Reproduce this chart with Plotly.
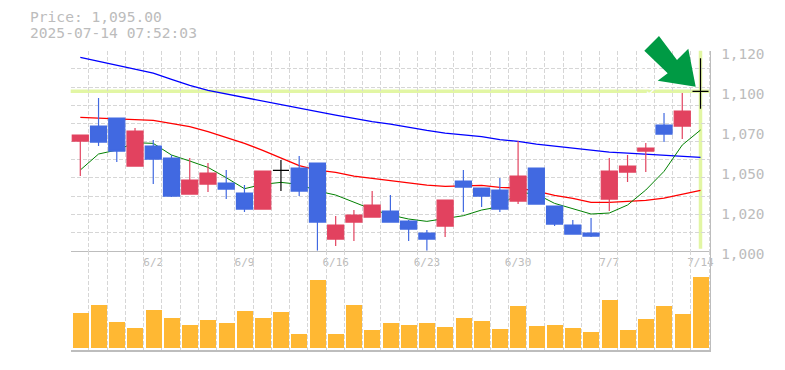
import plotly.graph_objects as go

W, H = 785, 370
FONT = "DejaVu Sans Mono"
GRID = "#d6d6d6"
AXIS = "#bdbdbd"
TEXT = "#bcbcbc"

dates = ["6/2", "6/9", "6/16", "6/23", "6/30", "7/7", "7/14"]
date_idx = [4, 9, 14, 19, 24, 29, 34]
price_labels = ["1,000", "1,020", "1,050", "1,070", "1,100", "1,120"]

opens = [1065.2, 1074.2, 1079.0, 1050.2, 1062.2, 1055.0, 1033.4, 1039.4, 1040.0, 1034.0, 1024.4, 1047.6,
         1049.0, 1052.0, 1006.4, 1016.6, 1019.6, 1023.2, 1017.2, 1010.0, 1014.2, 1041.2, 1037.0, 1035.8,
         1029.2, 1049.0, 1026.2, 1014.8, 1010.0, 1030.4, 1046.6, 1059.2, 1074.8, 1074.2, 1095.0]
closes = [1068.8, 1064.6, 1059.2, 1071.2, 1054.4, 1032.2, 1041.8, 1046.0, 1036.4, 1024.4, 1047.2, 1047.6,
          1035.2, 1016.6, 1014.8, 1020.8, 1026.8, 1016.6, 1012.4, 1006.4, 1029.8, 1037.6, 1032.2, 1024.4,
          1044.2, 1027.4, 1015.4, 1009.4, 1008.2, 1047.2, 1050.2, 1061.0, 1069.4, 1083.2, 1095.0]
highs = [1068.8, 1091.0, 1079.0, 1073.0, 1065.8, 1056.8, 1055.0, 1052.0, 1047.8, 1038.8, 1047.2, 1053.8,
         1056.2, 1052.0, 1020.2, 1023.8, 1035.2, 1032.8, 1017.8, 1011.8, 1029.8, 1047.8, 1037.0, 1043.0,
         1065.2, 1049.0, 1026.2, 1017.8, 1019.0, 1055.0, 1056.8, 1064.0, 1082.0, 1094.0, 1114.8]
lows = [1044.2, 1062.2, 1052.6, 1050.2, 1039.4, 1031.6, 1033.4, 1034.6, 1030.4, 1022.6, 1024.4, 1035.2,
        1032.2, 999.4, 1002.2, 1005.2, 1019.6, 1016.6, 1005.2, 999.4, 1007.6, 1022.6, 1025.6, 1022.6,
        1027.4, 1027.4, 1014.2, 1009.4, 1007.6, 1023.2, 1040.6, 1046.6, 1064.6, 1066.4, 1084.6]
ma_short = [1047.8, 1057.4, 1059.8, 1064.2, 1063.8, 1056.8, 1053.2, 1049.4, 1043.2, 1036.6, 1039.2, 1040.4,
            1039.2, 1035.2, 1032.8, 1028.6, 1024.2, 1020.8, 1018.4, 1017.0, 1018.8, 1020.4, 1023.8, 1025.8,
            1034.4, 1033.4, 1027.8, 1024.4, 1021.4, 1022.0, 1026.8, 1035.8, 1047.0, 1062.8, 1071.8]
ma_mid = [1079.4, 1078.8, 1078.2, 1078.0, 1077.6, 1075.8, 1073.8, 1070.8, 1067.4, 1063.8, 1059.6, 1055.2,
          1050.4, 1047.8, 1046.4, 1044.2, 1042.8, 1041.8, 1040.4, 1038.8, 1038.0, 1038.4, 1038.6, 1037.4,
          1037.0, 1035.2, 1032.6, 1030.8, 1028.4, 1028.4, 1029.0, 1029.6, 1031.0, 1033.2, 1035.6]
ma_long = [1115.4, 1113.0, 1110.6, 1108.2, 1106.0, 1102.2, 1098.6, 1095.6, 1093.4, 1091.4, 1089.2, 1086.8,
           1084.8, 1082.8, 1080.8, 1078.8, 1076.8, 1075.4, 1073.4, 1071.6, 1070.0, 1069.0, 1067.8, 1066.0,
           1065.0, 1063.4, 1062.2, 1061.2, 1059.8, 1058.6, 1058.0, 1057.4, 1056.6, 1055.8, 1055.4]
volume = [35, 43, 26, 20, 38, 30, 23, 28, 25, 37, 30, 36, 14, 68, 14, 43, 18, 25,
          23, 25, 21, 30, 27, 19, 42, 22, 23, 20, 16, 48, 18, 29, 42, 34, 71]
current_price = 1095.0

idx = list(range(len(opens)))
doji = [i for i in idx if opens[i] == closes[i]]
solid = [i for i in idx if opens[i] != closes[i]]
pick = lambda arr, ids: [arr[i] for i in ids]

x_range = [-0.526, 34.537]
y_range = [999.4, 1119.4]
vol_range = [-2, 97.3]
L, R, T, M, B = 70.7, 710.3, 50.7, 250.7, 350.0

x_grid = [x_range[0] + k * 1.0 for k in range(36)]
y_grid = [y_range[1] - k * (y_range[1] - y_range[0]) / 11 for k in range(12)]
y_label_vals = [y_range[0] + 24 * k for k in range(6)]

fig = go.Figure()
for arr, col, lw in ((ma_long, "#0000ff", 1.3), (ma_mid, "#ff0000", 1.3), (ma_short, "#008000", 1.0)):
    fig.add_trace(go.Scatter(x=idx, y=arr, mode="lines", yaxis="y", xaxis="x",
                             line=dict(color=col, width=lw), showlegend=False))

fig.add_trace(go.Candlestick(
    x=solid, open=pick(opens, solid), high=pick(highs, solid), low=pick(lows, solid), close=pick(closes, solid),
    xaxis="x", yaxis="y3", showlegend=False, whiskerwidth=0,
    increasing=dict(line=dict(color="#e2425f", width=1.2), fillcolor="#e2425f"),
    decreasing=dict(line=dict(color="#4169e1", width=1.2), fillcolor="#4169e1")))
fig.add_trace(go.Candlestick(
    x=doji, open=pick(opens, doji), high=pick(highs, doji), low=pick(lows, doji), close=pick(closes, doji),
    xaxis="x", yaxis="y3", showlegend=False, whiskerwidth=0,
    increasing=dict(line=dict(color="#000000", width=1.2), fillcolor="#000000"),
    decreasing=dict(line=dict(color="#000000", width=1.2), fillcolor="#000000")))
fig.add_trace(go.Bar(x=idx, y=volume, xaxis="x2", yaxis="y2", marker=dict(color="#ffb833", line_width=0),
                     width=0.877, showlegend=False))


def px(x, y):
    return f"{x / W:.5f},{1 - y / H:.5f}"


arrow_pts = [(659, 36), (644.3, 50.7), (667.7, 73.3), (657.7, 80.7), (695.7, 86.7), (688.3, 48.7), (677, 60)]
arrow_path = "M" + "L".join(px(*p).replace(",", " ") for p in arrow_pts) + "Z"

shapes = [
    dict(type="line", layer="below", xref="x domain", x0=0, x1=1, yref="y", y0=current_price, y1=current_price,
         line=dict(color="#e2f6a4", width=3.5)),
    dict(type="line", layer="below", xref="x", x0=idx[-1], x1=idx[-1], yref="y domain", y0=0.01, y1=1,
         line=dict(color="#e2f6a4", width=3.5)),
    dict(type="path", layer="above", xref="paper", yref="paper", path=arrow_path,
         fillcolor="#009a44", line=dict(width=0)),
]

annotations = [
    dict(text="Price: 1,095.00", x=28 / W, y=1 - 17 / H),
    dict(text="2025-07-14 07:52:03", x=28 / W, y=1 - 33 / H),
]
annotations = [dict(a, xref="paper", yref="paper", xanchor="left", yanchor="middle", showarrow=False,
                    font=dict(family=FONT, size=14.6, color=TEXT)) for a in annotations]
annotations.append(dict(text="検討", xref="paper", yref="paper", x=667 / W, y=1 - 59.5 / H, showarrow=False,
                        textangle=45, font=dict(family="Noto Sans CJK JP", size=15, color="#ffffff")))

fig.update_layout(
    width=W, height=H, margin=dict(l=0, r=0, t=0, b=0, pad=0, autoexpand=False), autosize=False,
    paper_bgcolor="#ffffff", plot_bgcolor="#ffffff", boxgap=0.12, boxgroupgap=0, bargap=0, showlegend=False,
    shapes=shapes, annotations=annotations,
    xaxis=dict(domain=[L / W, R / W], range=x_range, anchor="y", showgrid=False, zeroline=False,
               tickvals=date_idx, ticktext=dates, ticks="outside", ticklen=1, tickcolor="rgba(0,0,0,0)",
               tickfont=dict(family=FONT, size=11, color=TEXT), showline=True, linecolor=AXIS, linewidth=1,
               minor=dict(tickvals=x_grid, showgrid=True, gridcolor=GRID, griddash="4px,2px", gridwidth=1, ticklen=0),
               rangeslider=dict(visible=False), fixedrange=True),
    xaxis2=dict(domain=[L / W, R / W], range=x_range, anchor="y2", showgrid=False, zeroline=False,
                showticklabels=False, ticks="", showline=True, linecolor=AXIS, linewidth=1.5,
                tickvals=[], minor=dict(tickvals=x_grid, showgrid=True, gridcolor=GRID, griddash="4px,2px",
                                        gridwidth=1, ticklen=0)),
    yaxis=dict(domain=[1 - M / H, 1 - T / H], range=y_range, anchor="x", side="right", showgrid=False,
               zeroline=False, tickvals=y_label_vals, ticktext=price_labels, ticks="outside", ticklen=7,
               tickcolor="rgba(0,0,0,0)", tickfont=dict(family=FONT, size=14.4, color=TEXT),
               ticklabelshift=3, showline=True, linecolor=AXIS, linewidth=1,
               minor=dict(tickvals=y_grid, showgrid=True, gridcolor=GRID, griddash="4px,2px", gridwidth=1, ticklen=0)),
    yaxis3=dict(domain=[1 - M / H, 1 - T / H], range=y_range, anchor="x", overlaying="y", side="right",
                visible=False, showgrid=False),
    yaxis2=dict(domain=[1 - B / H, 1 - M / H], range=vol_range, anchor="x2", side="right", showgrid=False,
                zeroline=False, showticklabels=False, ticks="", showline=True, linecolor=AXIS, linewidth=1),
)
fig.write_html("out.html", config=dict(displayModeBar=False),
               post_script="document.documentElement.style.margin='0';document.documentElement.style.overflow='hidden';document.body.style.margin='0';document.body.style.overflow='hidden';")
